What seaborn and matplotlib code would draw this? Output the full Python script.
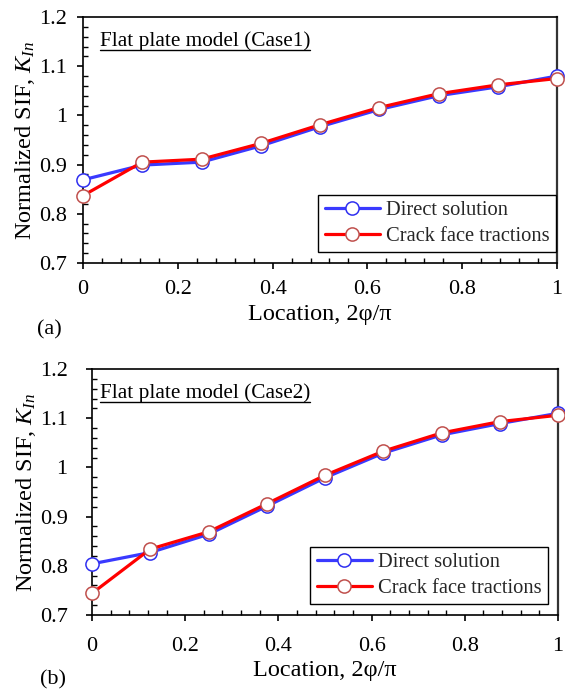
import matplotlib
matplotlib.use("Agg")
import matplotlib.pyplot as plt
from matplotlib.lines import Line2D
from matplotlib.ticker import MultipleLocator
import seaborn as sns
import pandas as pd

# ---- data ----
location = [0, 0.125, 0.25, 0.375, 0.5, 0.625, 0.75, 0.875, 1.0]
case1_direct = [0.869, 0.899, 0.905, 0.938, 0.977, 1.012, 1.040, 1.058, 1.080]
case1_crack = [0.837, 0.905, 0.911, 0.943, 0.981, 1.016, 1.044, 1.062, 1.075]
case2_direct = [0.804, 0.827, 0.864, 0.921, 0.979, 1.029, 1.066, 1.089, 1.110]
case2_crack = [0.744, 0.834, 0.869, 0.926, 0.984, 1.033, 1.070, 1.093, 1.106]
series_names = ["Direct solution", "Crack face tractions"]
panel_titles = ["Flat plate model (Case1)", "Flat plate model (Case2)"]
panel_tags = ["(a)", "(b)"]
xticks = [0, 0.2, 0.4, 0.6, 0.8, 1]
xtick_labels = ["0", "0.2", "0.4", "0.6", "0.8", "1"]
yticks = [0.7, 0.8, 0.9, 1.0, 1.1, 1.2]
ytick_labels = ["0.7", "0.8", "0.9", "1", "1.1", "1.2"]

sns.set_theme(style="white")
plt.rcParams["font.family"] = ["Liberation Serif", "DejaVu Serif"]
plt.rcParams["mathtext.fontset"] = "custom"
plt.rcParams["mathtext.rm"] = "Liberation Serif"
plt.rcParams["mathtext.it"] = "Liberation Serif:italic"

W, H = 565, 690
fig = plt.figure(figsize=(W / 100, H / 100), dpi=100)


def px_axes(left, right, top, bottom):
    return fig.add_axes([left / W, 1 - bottom / H, (right - left) / W, (bottom - top) / H])


ax_a = px_axes(83, 557, 17, 263)
ax_b = px_axes(92, 558, 369, 615)

blue_line = "#3a3aff"
blue_edge = "#2f2ff0"
red_line = "#FF0000"
red_edge = "#C0504D"

panels = [
    dict(ax=ax_a, direct=case1_direct, crack=case1_crack, title=panel_titles[0],
         tpos=(0.036, 0.882), ypad=7, xpad=8, ylabpad=1.5, xlabpad=3, legpos=(0.998, 0.045)),
    dict(ax=ax_b, direct=case2_direct, crack=case2_crack, title=panel_titles[1],
         tpos=(0.017, 0.882), ypad=13, xpad=11, ylabpad=1.0, xlabpad=3, legpos=(0.9785, 0.045)),
]

texts = []
for p in panels:
    ax = p["ax"]
    df = pd.DataFrame({"x": location * 2,
                       "y": p["direct"] + p["crack"],
                       "s": [series_names[0]] * len(location) + [series_names[1]] * len(location)})
    sns.lineplot(data=df[df.s == series_names[0]], x="x", y="y", ax=ax,
                 color=blue_line, lw=2.3, marker="o", markersize=9.5,
                 markerfacecolor="white", markeredgecolor=blue_edge, markeredgewidth=1.1,
                 label=series_names[0], clip_on=False, zorder=3)
    sns.lineplot(data=df[df.s == series_names[1]], x="x", y="y", ax=ax,
                 color=red_line, lw=2.3, marker="o", markersize=9.5,
                 markerfacecolor="white", markeredgecolor=red_edge, markeredgewidth=1.1,
                 label=series_names[1], clip_on=False, zorder=4)
    ax.set_xlim(0, 1)
    ax.set_ylim(0.7, 1.2)
    ax.set_xticks(xticks)
    ax.set_xticklabels(xtick_labels)
    ax.set_yticks(yticks)
    ax.set_yticklabels(ytick_labels)
    ax.xaxis.set_minor_locator(MultipleLocator(0.04))
    ax.yaxis.set_minor_locator(MultipleLocator(0.02))
    ax.tick_params(which="major", direction="out", length=4.5, width=1.2, color="black",
                   labelsize=16, labelcolor="black", bottom=True, left=True)
    ax.tick_params(axis="y", which="major", pad=p["ypad"])
    ax.tick_params(axis="x", which="major", pad=p["xpad"])
    ax.tick_params(which="minor", direction="in", length=3.5, width=1.0, color="black",
                   bottom=True, left=True)
    for sp in ax.spines.values():
        sp.set_visible(True)
        sp.set_color("black")
        sp.set_linewidth(1.2)
    ax.spines["right"].set_color("#333333")
    ax.spines["right"].set_linewidth(1.6)
    ax.set_xlabel("Location, 2\u03c6/\u03c0", fontsize=17.5, color="black", labelpad=p["xlabpad"])
    ax.set_ylabel("Normalized SIF, $K_{In}$", fontsize=17.5, color="black", labelpad=p["ylabpad"])
    leg = ax.legend(loc="lower right", bbox_to_anchor=p["legpos"], fontsize=14.8,
                    frameon=True, fancybox=False, edgecolor="black", framealpha=1,
                    borderpad=0.3, labelspacing=0.3, handlelength=2.7,
                    handletextpad=0.3, borderaxespad=0.0)
    leg.get_frame().set_linewidth(1.0)
    t = ax.text(p["tpos"][0], p["tpos"][1], p["title"], transform=ax.transAxes,
                fontsize=15.3, color="black", ha="left", va="baseline")
    texts.append((ax, t))
    ax.grid(False)

fig.text(37 / W, 1 - 334 / H, panel_tags[0], fontsize=16, color="black", ha="left", va="baseline")
fig.text(40 / W, 1 - 684 / H, panel_tags[1], fontsize=16, color="black", ha="left", va="baseline")

fig.canvas.draw()
renderer = fig.canvas.get_renderer()
for ax, t in texts:
    bb = t.get_window_extent(renderer=renderer)
    inv = ax.transAxes.inverted()
    (x0, y0), (x1, _) = inv.transform([(bb.x0, bb.y0 + 1), (bb.x1, bb.y0)])
    ax.add_line(Line2D([x0, x1], [y0, y0], transform=ax.transAxes, color="black", lw=1.0))

fig.savefig("out.png", dpi=100, facecolor="white")
